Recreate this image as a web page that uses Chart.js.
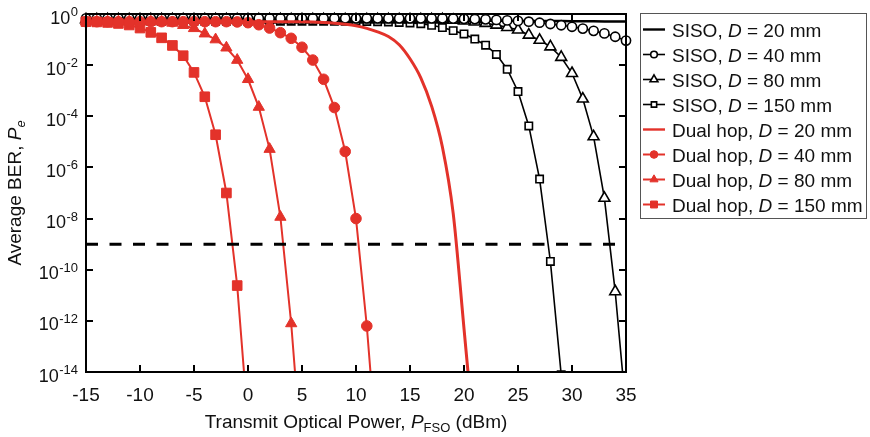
<!DOCTYPE html>
<html>
<head>
<meta charset="utf-8">
<title>Average BER vs transmit optical power</title>
<script src="https://cdn.jsdelivr.net/npm/chart.js@4/dist/chart.umd.min.js"></script>
<style>
  html, body { margin: 0; padding: 0; background: #fff; }
  #chart { display: block; }
</style>
</head>
<body>
<canvas id="chart" width="870" height="437"></canvas>
<script>
// Transmit optical power P_FSO (dBm), one sample per dB
const xPower = [-15, -14, -13, -12, -11, -10, -9, -8, -7, -6, -5, -4, -3, -2, -1, 0,
  1, 2, 3, 4, 5, 6, 7, 8, 9, 10, 11, 12, 13, 14, 15, 16, 17, 18, 19, 20,
  21, 22, 23, 24, 25, 26, 27, 28, 29, 30, 31, 32, 33, 34, 35];

// Average BER (null = not plotted)
const sisoD20 = [0.55, 0.55, 0.55, 0.55, 0.55, 0.55, 0.55, 0.55, 0.55, 0.55, 0.55, 0.55, 0.55, 0.55, 0.55, 0.55,
  0.55, 0.55, 0.55, 0.55, 0.55, 0.55, 0.55, 0.55, 0.55, 0.55, 0.55, 0.55, 0.55, 0.55, 0.55, 0.55, 0.55, 0.55, 0.55, 0.55,
  0.54, 0.54, 0.54, 0.54, 0.54, 0.53, 0.53, 0.53, 0.53, 0.52, 0.52, 0.52, 0.51, 0.51, 0.51];
const sisoD40 = [0.676, 0.676, 0.676, 0.676, 0.676, 0.676, 0.676, 0.676, 0.676, 0.676, 0.676, 0.676, 0.676, 0.676, 0.676, 0.676,
  0.676, 0.676, 0.676, 0.676, 0.676, 0.676, 0.676, 0.676, 0.676, 0.676, 0.676, 0.676, 0.676, 0.676, 0.676, 0.676, 0.676, 0.676, 0.661, 0.646,
  0.631, 0.617, 0.589, 0.562, 0.537, 0.501, 0.457, 0.407, 0.363, 0.316, 0.269, 0.219, 0.174, 0.129, 0.0912];
const sisoD80 = [0.603, 0.603, 0.603, 0.603, 0.603, 0.603, 0.603, 0.603, 0.603, 0.603, 0.603, 0.603, 0.603, 0.603, 0.603, 0.603,
  0.603, 0.603, 0.603, 0.603, 0.603, 0.603, 0.603, 0.603, 0.603, 0.603, 0.603, 0.603, 0.603, 0.603, 0.603, 0.603, 0.603, 0.603, 0.575, 0.537,
  0.490, 0.437, 0.372, 0.302, 0.240, 0.151, 0.0955, 0.0525, 0.0204, 4.8e-3, 4.8e-4, 1.6e-5, 6.3e-8, 1.4e-11, 3.2e-16];
const sisoD150 = [0.525, 0.525, 0.525, 0.525, 0.525, 0.525, 0.525, 0.525, 0.525, 0.525, 0.525, 0.525, 0.525, 0.525, 0.525, 0.525,
  0.525, 0.525, 0.525, 0.525, 0.525, 0.525, 0.525, 0.525, 0.525, 0.525, 0.513, 0.501, 0.490, 0.468, 0.447, 0.417, 0.363, 0.295, 0.224, 0.166,
  0.105, 0.0603, 0.0263, 6.9e-3, 9.3e-4, 4.2e-5, 3.5e-7, 2.1e-10, 7.9e-15, null, null, null, null, null, null];
const dualD20 = [0.501, 0.501, 0.501, 0.501, 0.501, 0.501, 0.501, 0.501, 0.501, 0.501, 0.501, 0.501, 0.501, 0.501, 0.501, 0.501,
  0.501, 0.501, 0.501, 0.501, 0.501, 0.490, 0.468, 0.437, 0.398, 0.347, 0.275, 0.200, 0.132, 0.0631, 0.0178, 3.2e-3, 2.5e-4, 6.3e-6, 1.6e-8, 5.0e-13,
  1.3e-17, null, null, null, null, null, null, null, null, null, null, null, null, null, null];
const dualD40 = [0.501, 0.501, 0.501, 0.501, 0.501, 0.501, 0.501, 0.501, 0.501, 0.501, 0.501, 0.501, 0.501, 0.501, 0.490, 0.457,
  0.380, 0.282, 0.186, 0.112, 0.0501, 0.0158, 2.8e-3, 2.2e-4, 4.2e-6, 1.0e-8, 6.3e-13, 3.2e-18, null, null, null, null, null, null, null, null,
  null, null, null, null, null, null, null, null, null, null, null, null, null, null, null];
const dualD80 = [0.501, 0.501, 0.501, 0.501, 0.501, 0.501, 0.501, 0.501, 0.447, 0.365, 0.275, 0.170, 0.100, 0.0479, 0.0158, 2.8e-3,
  2.3e-4, 5.2e-6, 1.15e-8, 7.9e-13, 3.2e-18, null, null, null, null, null, null, null, null, null, null, null, null, null, null, null,
  null, null, null, null, null, null, null, null, null, null, null, null, null, null, null];
const dualD150 = [0.501, 0.490, 0.468, 0.427, 0.372, 0.282, 0.191, 0.117, 0.0589, 0.0234, 5.2e-3, 5.8e-4, 1.9e-5, 1.0e-7, 2.4e-11, 1.0e-16,
  null, null, null, null, null, null, null, null, null, null, null, null, null, null, null, null, null, null, null, null,
  null, null, null, null, null, null, null, null, null, null, null, null, null, null, null];

// Target BER (dashed line)
const berTarget = 1e-9;

const legendLabels = ['SISO, D = 20 mm', 'SISO, D = 40 mm', 'SISO, D = 80 mm', 'SISO, D = 150 mm',
  'Dual hop, D = 20 mm', 'Dual hop, D = 40 mm', 'Dual hop, D = 80 mm', 'Dual hop, D = 150 mm'];

const xTicks = [-15, -10, -5, 0, 5, 10, 15, 20, 25, 30, 35];
const yTicks = [1, 1e-2, 1e-4, 1e-6, 1e-8, 1e-10, 1e-12, 1e-14];
const yTickExp = ['0', '-2', '-4', '-6', '-8', '-10', '-12', '-14'];

const xTitle = [{ text: 'Transmit Optical Power, ' }, { text: 'P', italic: true }, { text: 'FSO', sub: true }, { text: ' (dBm)' }];
const yTitle = [{ text: 'Average BER, ' }, { text: 'P', italic: true }, { text: 'e', italic: true, sub: true }];

const RED = '#e3322a';
const BLACK = '#000000';
const FONT = '"Liberation Sans", Arial, Helvetica, sans-serif';
const TEXT = '#111111';

function points(vals) {
  return xPower.map((x, i) => ({ x: x, y: vals[i] }));
}

// Line + marker dataset
function series(label, vals, color, marker, radius, filled, lineWidth, order, smooth) {
  return {
    label: label,
    data: points(vals),
    borderColor: color,
    backgroundColor: color,
    borderWidth: lineWidth,
    pointStyle: marker || 'circle',
    pointRadius: marker ? radius : 0,
    pointHoverRadius: 0,
    pointBorderWidth: filled ? 1 : 1.6,
    pointBorderColor: color,
    pointBackgroundColor: filled ? color : '#ffffff',
    cubicInterpolationMode: smooth ? 'monotone' : 'default',
    tension: 0,
    clip: { left: 8, top: 8, right: 8, bottom: 0 },
    order: order
  };
}

const datasets = [
  series(legendLabels[0], sisoD20, BLACK, null, 0, false, 2.4, 4),
  series(legendLabels[1], sisoD40, BLACK, 'circle', 4.6, false, 1.6, 3),
  series(legendLabels[2], sisoD80, BLACK, 'triangle', 6.3, false, 1.6, 3),
  series(legendLabels[3], sisoD150, BLACK, 'rect', 5.2, false, 1.6, 3),
  series(legendLabels[4], dualD20, RED, null, 0, true, 3, 2, true),
  series(legendLabels[5], dualD40, RED, 'circle', 5.3, true, 2, 0),
  series(legendLabels[6], dualD80, RED, 'triangle', 6.5, true, 2, 1),
  series(legendLabels[7], dualD150, RED, 'rect', 6.8, true, 2, 1),
  {
    label: 'target',
    data: [{ x: xTicks[0], y: berTarget }, { x: xTicks[xTicks.length - 1], y: berTarget }],
    borderColor: BLACK,
    borderWidth: 3,
    borderDash: [12, 11.5],
    pointRadius: 0,
    pointHoverRadius: 0,
    order: -1
  }
];

function segFont(s) {
  return (s.italic ? 'italic ' : '') + (s.sub ? 13 : 19) + 'px ' + FONT;
}

// draw text made of mixed italic / subscript pieces
function drawRich(ctx, segs, x, y, align) {
  let total = 0;
  const widths = segs.map(s => {
    ctx.font = segFont(s);
    const w = ctx.measureText(s.text).width;
    total += w;
    return w;
  });
  let cx = align === 'center' ? x - total / 2 : (align === 'right' ? x - total : x);
  ctx.textAlign = 'left';
  ctx.textBaseline = 'alphabetic';
  segs.forEach((s, i) => {
    ctx.font = segFont(s);
    ctx.fillText(s.text, cx, y + (s.sub ? 4 : 0));
    cx += widths[i];
  });
}

function legendMarker(ctx, style, x, y, r) {
  ctx.beginPath();
  if (style === 'circle') {
    ctx.arc(x, y, r, 0, Math.PI * 2);
  } else if (style === 'rect') {
    const h = r * Math.SQRT1_2;
    ctx.rect(x - h, y - h, 2 * h, 2 * h);
  } else if (style === 'triangle') {
    ctx.moveTo(x, y - r);
    ctx.lineTo(x + r * 0.866, y + r / 2);
    ctx.lineTo(x - r * 0.866, y + r / 2);
    ctx.closePath();
  }
  ctx.fill();
  ctx.stroke();
}

const decorations = {
  id: 'decorations',
  afterDraw(chart) {
    const ctx = chart.ctx;
    const a = chart.chartArea;
    const xs = chart.scales.x;
    const ys = chart.scales.y;
    ctx.save();

    // plot frame with inward ticks on all sides
    ctx.strokeStyle = BLACK;
    ctx.lineWidth = 2;
    ctx.strokeRect(a.left, a.top, a.right - a.left, a.bottom - a.top);
    ctx.beginPath();
    xTicks.forEach(v => {
      const px = Math.round(xs.getPixelForValue(v));
      ctx.moveTo(px, a.bottom); ctx.lineTo(px, a.bottom - 7);
      ctx.moveTo(px, a.top); ctx.lineTo(px, a.top + 7);
    });
    yTicks.forEach(v => {
      const py = Math.round(ys.getPixelForValue(v));
      ctx.moveTo(a.left, py); ctx.lineTo(a.left + 7, py);
      ctx.moveTo(a.right, py); ctx.lineTo(a.right - 7, py);
    });
    ctx.stroke();

    // y tick labels as 10 with a raised exponent
    ctx.fillStyle = TEXT;
    ctx.textBaseline = 'alphabetic';
    yTicks.forEach((v, i) => {
      const py = ys.getPixelForValue(v);
      const rightEdge = a.left - 8;
      ctx.font = '13px ' + FONT;
      ctx.textAlign = 'right';
      const ew = ctx.measureText(yTickExp[i]).width;
      ctx.fillText(yTickExp[i], rightEdge, py + 2);
      ctx.font = '18px ' + FONT;
      ctx.fillText('10', rightEdge - ew - 0.5, py + 9.5);
    });

    // axis titles
    drawRich(ctx, xTitle, (a.left + a.right) / 2, 428, 'center');
    ctx.save();
    ctx.translate(21, (a.top + a.bottom) / 2);
    ctx.rotate(-Math.PI / 2);
    drawRich(ctx, yTitle, 0, 0, 'center');
    ctx.restore();

    // legend box
    const box = { left: 640, top: 13, right: 866, bottom: 218 };
    ctx.strokeStyle = '#555555';
    ctx.lineWidth = 1;
    ctx.strokeRect(box.left + 0.5, box.top + 0.5, box.right - box.left, box.bottom - box.top);
    legendLabels.forEach((label, i) => {
      const ds = chart.data.datasets[i];
      const y = 29.5 + i * 25;
      ctx.strokeStyle = ds.borderColor;
      ctx.lineWidth = Math.min(ds.borderWidth, 2.4);
      ctx.beginPath();
      ctx.moveTo(643, y); ctx.lineTo(665, y);
      ctx.stroke();
      if (ds.pointRadius > 0) {
        ctx.fillStyle = ds.pointBackgroundColor;
        ctx.lineWidth = ds.pointBorderWidth;
        legendMarker(ctx, ds.pointStyle, 654, y, ds.pointRadius * 0.72);
      }
      ctx.fillStyle = TEXT;
      const parts = label.split(' D ');
      drawRich(ctx, [{ text: parts[0] + ' ' }, { text: 'D', italic: true }, { text: ' ' + parts[1] }], 672, y + 7, 'left');
    });
    ctx.restore();
  }
};

new Chart(document.getElementById('chart').getContext('2d'), {
  type: 'line',
  data: { datasets: datasets },
  options: {
    responsive: false,
    animation: false,
    devicePixelRatio: 1,
    layout: { padding: { left: 0, top: 14, right: 244, bottom: 0 } },
    plugins: {
      legend: { display: false },
      tooltip: { enabled: false }
    },
    scales: {
      x: {
        type: 'linear',
        min: xTicks[0],
        max: xTicks[xTicks.length - 1],
        afterBuildTicks: s => { s.ticks = xTicks.map(v => ({ value: v })); },
        afterFit: s => { s.height = 65; },
        ticks: { font: { family: FONT, size: 19 }, color: TEXT, padding: 12, maxRotation: 0, autoSkip: false },
        grid: { display: false, drawTicks: false },
        border: { display: false }
      },
      y: {
        type: 'logarithmic',
        min: yTicks[yTicks.length - 1],
        max: yTicks[0],
        afterBuildTicks: s => { s.ticks = yTicks.map(v => ({ value: v })); },
        afterFit: s => { s.width = 86; },
        ticks: { display: false },
        grid: { display: false, drawTicks: false },
        border: { display: false }
      }
    }
  },
  plugins: [decorations]
});
</script>
</body>
</html>
